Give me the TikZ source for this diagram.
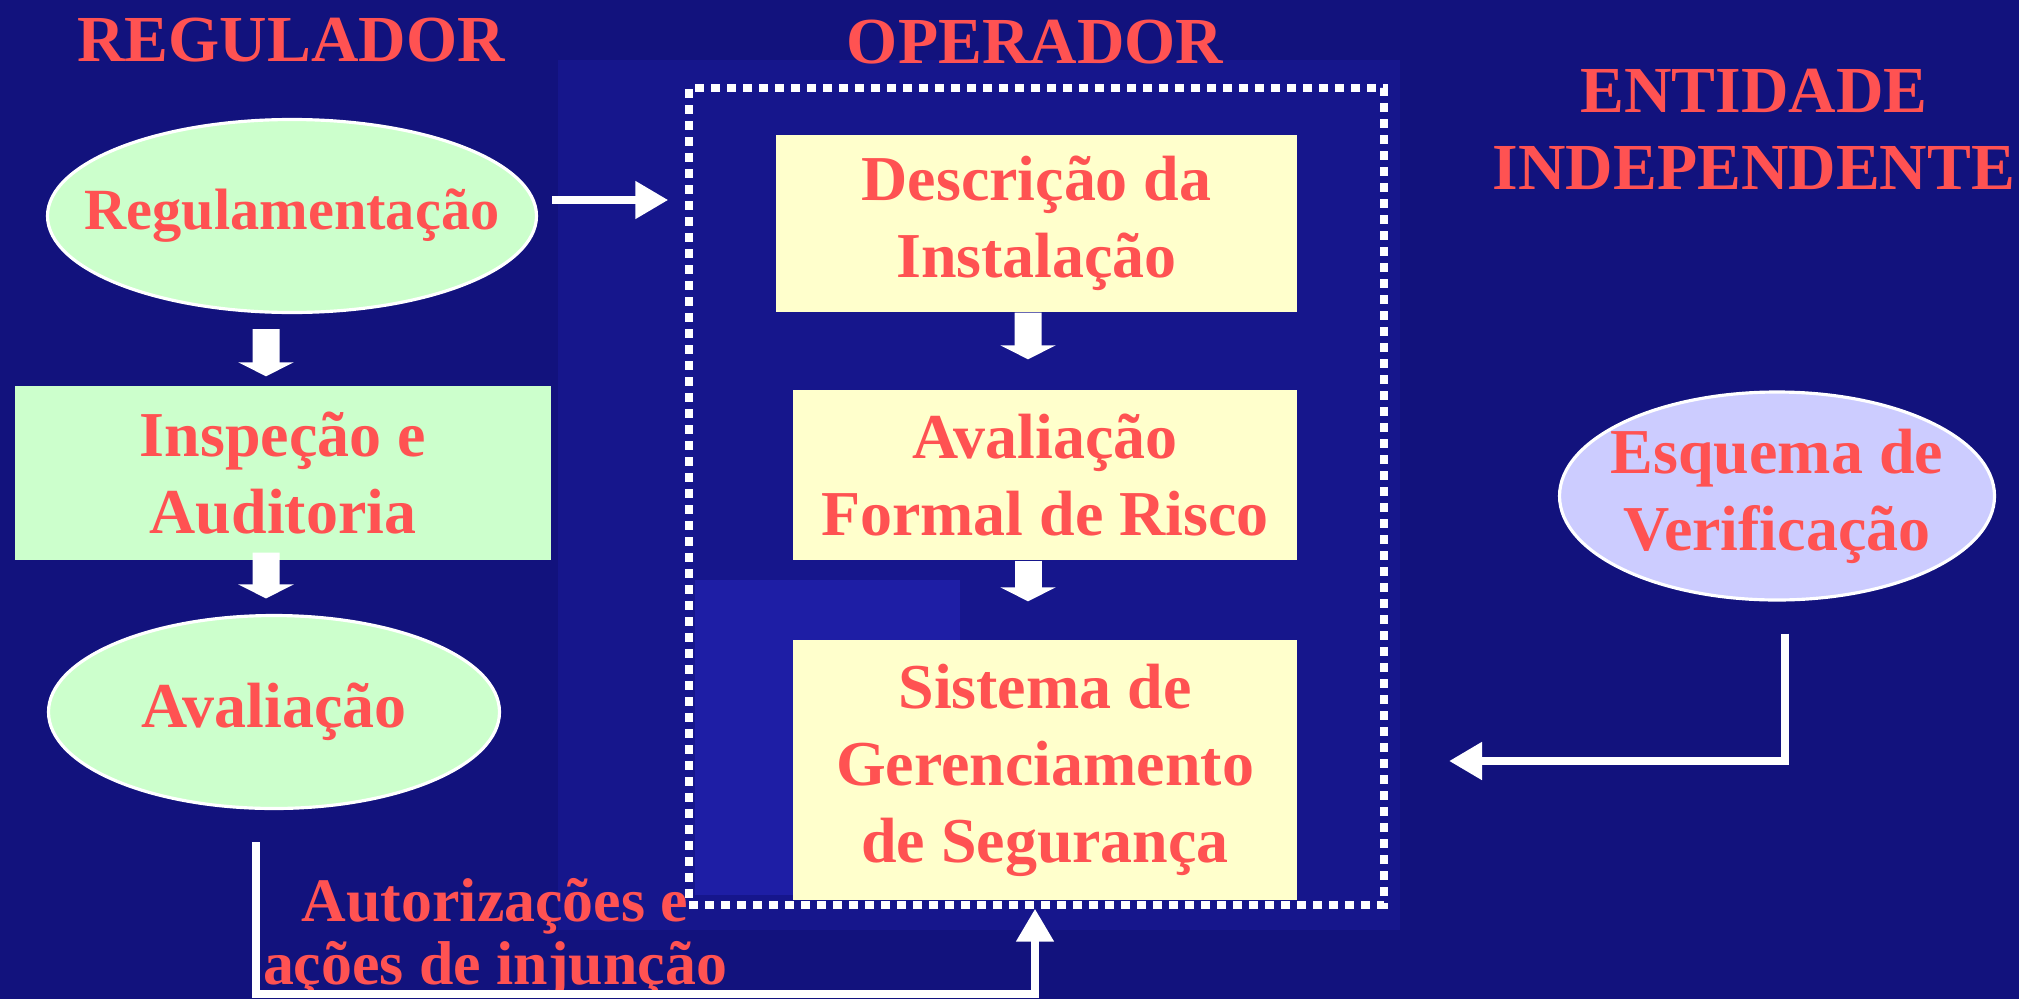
\documentclass[tikz,border=0pt]{standalone}
\usepackage{fontspec}
\setmainfont{Liberation Serif}
\usetikzlibrary{arrows.meta,shapes.geometric}

\definecolor{fundo}{RGB}{18,18,125}
\definecolor{foto}{RGB}{22,22,140}
\definecolor{fotoclara}{RGB}{30,30,165}
\definecolor{texto}{RGB}{255,82,82}
\definecolor{verde}{RGB}{204,255,204}
\definecolor{amarelo}{RGB}{255,255,204}
\definecolor{lilas}{RGB}{204,204,255}

\tikzset{
  titulo/.style={text=texto,align=center,font=\bfseries\fontsize{18.7}{21.9}\selectfont},
  caixa/.style={rectangle,fill=amarelo,text=texto,align=center,inner sep=0pt,
    font=\bfseries\fontsize{18.2}{21.9}\selectfont},
  elipse/.style={ellipse,draw=white,line width=0.9pt,fill=verde,text=texto,align=center,
    inner xsep=-1cm,inner ysep=-0.6cm,font=\bfseries\fontsize{18.2}{21.9}\selectfont},
  moldura/.style={rectangle,draw=white,line width=0.075cm,dash pattern=on 0.09cm off 0.07cm},
  seta/.style={white,line width=0.08cm,-{Triangle[width=0.36cm,length=0.33cm]}},
  bloco/.style={white,line width=0.27cm,-{Triangle[width=0.55cm,length=0.14cm]}},
}

\begin{document}
\begin{tikzpicture}
% fundo
\useasboundingbox (0,0) rectangle (20.19,-9.99);
\fill[fundo] (0,0) rectangle (20.19,-9.99);
\fill[foto] (5.58,-0.6) rectangle (14.0,-9.3);
\fill[fotoclara] (6.95,-5.8) rectangle (9.6,-8.95);

% titulos
\node[titulo] (tReg) at (2.91,-0.40) {REGULADOR};
\node[titulo] (tOpe) at (10.35,-0.42) {OPERADOR};
\node[titulo] (tEnt) at (17.54,-1.29) {ENTIDADE\\INDEPENDENTE};

% regulador
\node[elipse,minimum width=4.89cm,minimum height=1.93cm,
  font=\bfseries\fontsize{16.6}{20}\selectfont] (reg) at (2.92,-2.16) {Regulamenta\c{c}\~ao};
\node[caixa,fill=verde,minimum width=5.36cm,minimum height=1.74cm] (insp) at (2.83,-4.73) {Inspe\c{c}\~ao e\\Auditoria};
\node[elipse,minimum width=4.51cm,minimum height=1.93cm] (aval) at (2.74,-7.12) {Avalia\c{c}\~ao};

% operador
\node[moldura,minimum width=6.95cm,minimum height=8.17cm] (ope) at (10.365,-4.965) {};
\node[caixa,minimum width=5.21cm,minimum height=1.77cm] (desc) at (10.365,-2.235) {Descri\c{c}\~ao da\\Instala\c{c}\~ao};
\node[caixa,minimum width=5.04cm,minimum height=1.70cm] (afr) at (10.45,-4.75) {Avalia\c{c}\~ao\\Formal de Risco};
\node[caixa,minimum width=5.04cm,minimum height=2.60cm] (sgs) at (10.45,-7.70) {Sistema de\\Gerenciamento\\de Seguran\c{c}a};

% entidade independente
\node[elipse,fill=lilas,minimum width=4.35cm,minimum height=2.08cm] (esq) at (17.77,-4.96) {Esquema de\\Verifica\c{c}\~ao};
\coordinate (esqfim) at (14.49,-7.61);

% rotulo
\node[text=texto,align=center,font=\bfseries\fontsize{17.6}{17.9}\selectfont] (aut) at (4.95,-9.38) {Autoriza\c{c}\~oes e\\a\c{c}\~oes de injun\c{c}\~ao};

% setas
\draw[bloco] ([xshift=-0.26cm,yshift=-0.15cm]reg.south) -- ([xshift=-0.17cm,yshift=0.09cm]insp.north);
\draw[bloco] ([xshift=-0.17cm,yshift=0.08cm]insp.south) -- ([xshift=-0.08cm,yshift=0.155cm]aval.north);
\draw[bloco] ([xshift=-0.085cm]desc.south) -- ([xshift=-0.17cm,yshift=0.30cm]afr.north);
\draw[bloco] ([xshift=-0.17cm]afr.south) -- ([xshift=-0.17cm,yshift=0.38cm]sgs.north);
\draw[seta,shorten <=0.14cm,shorten >=0.17cm] ([yshift=0.16cm]reg.east) -- ([yshift=0.16cm]reg.east -| ope.west);
\draw[seta] ([xshift=0.08cm,yshift=-0.32cm]esq.south) |- (esqfim);
\draw[seta] ([xshift=-0.18cm,yshift=-0.32cm]aval.south) -- ++(0,-1.52) -| ([xshift=-0.10cm,yshift=-0.08cm]sgs.south);
\end{tikzpicture}
\end{document}
